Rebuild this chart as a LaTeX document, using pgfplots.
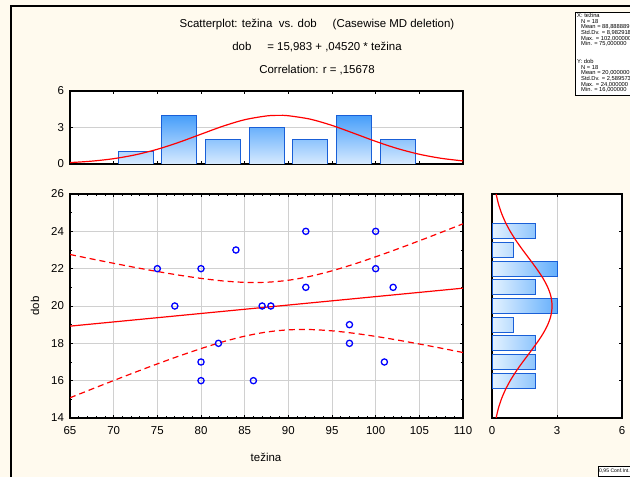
\documentclass[border=0pt]{standalone}
\usepackage{pgfplots}
\pgfplotsset{compat=1.18}
\usepackage{fontspec}
\setmainfont{Liberation Sans}
\definecolor{bgcream}{RGB}{255,250,238}
\definecolor{gridgray}{RGB}{208,208,208}
\definecolor{barborder}{RGB}{25,95,215}
\definecolor{bardark}{RGB}{70,158,250}
\definecolor{barlight}{RGB}{215,234,255}
\definecolor{barlightR}{RGB}{228,242,255}
\definecolor{bardarkR}{RGB}{100,175,252}
\pgfplotsset{
  every axis/.append style={
    scale only axis,
    axis line style={line width=1.2bp},
    tick align=inside,
    major tick length=3bp, minor tick length=2bp,
    tick style={black, line width=0.8bp},
    grid style={color=gridgray, line width=0.9bp},
    axis background/.style={fill=white},
    tick label style={font=\fontsize{11.5}{13}\selectfont},
    xticklabel style={yshift=-5bp},
    yticklabel style={xshift=-2.5bp},
    /pgf/number format/assume math mode=true,
  },
}
\begin{document}
\begin{tikzpicture}
\useasboundingbox (0bp,0bp) rectangle (630bp,477bp);
\clip (0bp,0bp) rectangle (630bp,477bp);
\fill[bgcream] (0bp,0bp) rectangle (630bp,477bp);
\draw[line width=1.3bp] (11bp,-5bp) -- (11bp,471bp) -- (640bp,471bp);

% titles
\node[font=\fontsize{11.5}{13}\selectfont] at (317bp,452bp) {Scatterplot: težina\ \ vs. dob\ \ \ \ \ (Casewise MD deletion)};
\node[font=\fontsize{11.5}{13}\selectfont] at (317bp,430bp) {dob\ \ \ \ \ = 15,983 + ,04520 * težina};
\node[font=\fontsize{11.5}{13}\selectfont] at (317bp,407bp) {Correlation: r = ,15678};

% top histogram
\begin{axis}[at={(70bp,313bp)}, anchor=south west, width=393bp, height=73bp,
  xmin=65, xmax=110, ymin=0, ymax=6,
  xtick={65,70,...,110}, xticklabels={},
  ytick={0,3,6}, ymajorgrids]
\addplot[ybar, bar width=4, draw=barborder, line width=0.8bp, top color=bardark, bottom color=barlight]
  coordinates {(72.5,1) (77.5,4) (82.5,2) (87.5,3) (92.5,2) (97.5,4) (102.5,2)};
\addplot[red, line width=1.2bp, smooth, no marks] coordinates {
(65,0.1164) (67.5,0.2347) (70,0.4380) (72.5,0.7566) (75,1.2095) (77.5,1.7893)
(80,2.4498) (82.5,3.1037) (85,3.6395) (87.5,3.9495) (88.889,3.997) (90,3.9666)
(92.5,3.6868) (95,3.1712) (97.5,2.5245) (100,1.8599) (102.5,1.2683) (105,0.8002)
(107.5,0.4672) (110,0.2525)};
\end{axis}

% scatter
\begin{axis}[at={(70bp,59bp)}, anchor=south west, width=393bp, height=224bp,
  xmin=65, xmax=110, ymin=14, ymax=26,
  xtick={65,70,...,110}, ytick={14,16,...,26},
  minor x tick num=4, minor y tick num=1, grid=major]
\addplot[red, line width=1.2bp, no marks] coordinates {(65,18.921) (110,20.955)};
\addplot[red, line width=1.2bp, no marks, smooth, dash pattern=on 6bp off 4bp] coordinates {
(65,22.759) (67.5,22.520) (70,22.287) (72.5,22.062) (75,21.848) (77.5,21.651)
(80,21.479) (82.5,21.344) (85,21.267) (87.5,21.272) (90,21.379) (92.5,21.590)
(95,21.885) (97.5,22.240) (100,22.635) (102.5,23.056) (105,23.494) (107.5,23.944) (110,24.402)};
\addplot[red, line width=1.2bp, no marks, smooth, dash pattern=on 6bp off 4bp] coordinates {
(65,15.083) (67.5,15.548) (70,16.007) (72.5,16.458) (75,16.898) (77.5,17.321)
(80,17.719) (82.5,18.080) (85,18.383) (87.5,18.604) (90,18.723) (92.5,18.738)
(95,18.669) (97.5,18.540) (100,18.371) (102.5,18.176) (105,17.964) (107.5,17.740) (110,17.508)};
\addplot[only marks, mark=o, mark size=3.1bp, color=blue, mark options={line width=1.3bp}] coordinates {
(75,22) (77,20) (80,22) (80,17) (80,16) (82,18) (84,23) (86,16) (87,20)
(88,20) (92,24) (92,21) (97,19) (97,18) (100,24) (100,22) (101,17) (102,21)};
\end{axis}

% right histogram
\begin{axis}[at={(492bp,59bp)}, anchor=south west, width=130bp, height=224bp,
  xmin=0, xmax=6, ymin=14, ymax=26,
  xtick={0,3,6}, xmajorgrids,
  ytick={16,18,...,24}, yticklabels={}]
\addplot[xbar, bar width=0.8, draw=barborder, line width=0.8bp, left color=barlightR, right color=bardarkR]
  coordinates {(2,24) (1,23) (3,22) (2,21) (3,20) (1,19) (2,18) (2,17) (2,16)};
\addplot[red, line width=1.2bp, smooth, no marks] coordinates {
(0.1894,14) (0.2906,14.5) (0.4300,15) (0.6127,15.5) (0.8411,16) (1.1124,16.5)
(1.4175,17) (1.7402,17.5) (2.0580,18) (2.3447,18.5) (2.5738,19) (2.7218,19.5)
(2.773,20) (2.7218,20.5) (2.5738,21) (2.3447,21.5) (2.0580,22) (1.7402,22.5)
(1.4175,23) (1.1124,23.5) (0.8411,24) (0.6127,24.5) (0.4300,25) (0.2906,25.5) (0.1894,26)};
\end{axis}

% axis titles
\node[font=\fontsize{11.5}{13}\selectfont] at (266bp,20bp) {težina};
\node[font=\fontsize{11.5}{13}\selectfont, rotate=90] at (35bp,171bp) {dob};

% statistics box
\draw[fill=white, line width=0.6bp] (575bp,382bp) rectangle (640bp,465bp);
\node[anchor=north west, inner sep=0pt, align=left, font=\fontsize{5.8}{5.7}\selectfont]
  at (577bp,464bp) {X: težina\\
\hspace*{4bp}N = 18\\
\hspace*{4bp}Mean = 88,888889\\
\hspace*{4bp}Std.Dv. = 8,982918\\
\hspace*{4bp}Max. = 102,000000\\
\hspace*{4bp}Min. = 75,000000\\[12bp]
Y: dob\\
\hspace*{4bp}N = 18\\
\hspace*{4bp}Mean = 20,000000\\
\hspace*{4bp}Std.Dv. = 2,589573\\
\hspace*{4bp}Max. = 24,000000\\
\hspace*{4bp}Min. = 16,000000};

% conf box
\draw[fill=white, line width=0.8bp] (598bp,1bp) rectangle (640bp,10.5bp);
\node[anchor=west, inner sep=0pt, font=\fontsize{5.1}{6}\selectfont] at (599bp,5.7bp) {0,95 Conf.Int.};
\end{tikzpicture}
\end{document}
